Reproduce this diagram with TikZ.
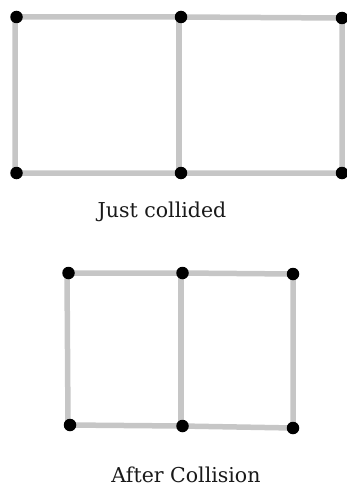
\documentclass[tikz,border=0pt]{standalone}
\usepackage{fontspec}
\setmainfont{DejaVu Serif}
\definecolor{rodgray}{HTML}{C6C6C6}
\begin{document}
\begin{tikzpicture}[x=1pt,y=-1pt,
  rod/.style={draw=rodgray,line width=5.5pt},
  ball/.style={circle,fill=black,inner sep=0pt,minimum size=12.5pt},
  caption/.style={font=\fontsize{20.5}{24}\selectfont,text=black!90,anchor=base}]
\useasboundingbox (0,0) rectangle (347,487);
% top: just collided
\coordinate (a1) at (15,17);
\coordinate (a2) at (179,17);
\coordinate (a3) at (342,18);
\coordinate (a4) at (15,173);
\coordinate (a5) at (179,173);
\coordinate (a6) at (342,173);
\draw[rod] (a1) -- (a2) -- (a3) -- (a6) -- (a5) -- (a4) -- cycle;
\draw[rod] (a2) -- (a5);
\foreach \n/\dx in {a1/1.5,a2/2,a3/0,a4/1.5,a5/2,a6/0}
  \node[ball] at ([xshift=\dx pt]\n) {};
\node[caption] (t1) at (162,217) {Just collided};
% bottom: after collision
\coordinate (b1) at (67,273);
\coordinate (b2) at (181,273);
\coordinate (b3) at (293,274);
\coordinate (b4) at (68,425);
\coordinate (b5) at (181,426);
\coordinate (b6) at (293,428);
\draw[rod] (b1) -- (b2) -- (b3) -- (b6) -- (b5) -- (b4) -- cycle;
\draw[rod] (b2) -- (b5);
\foreach \n/\dx in {b1/1.5,b2/1.5,b3/0,b4/2,b5/1.5,b6/0}
  \node[ball] at ([xshift=\dx pt]\n) {};
\node[caption] (t2) at (186,482) {After Collision};
\end{tikzpicture}
\end{document}
